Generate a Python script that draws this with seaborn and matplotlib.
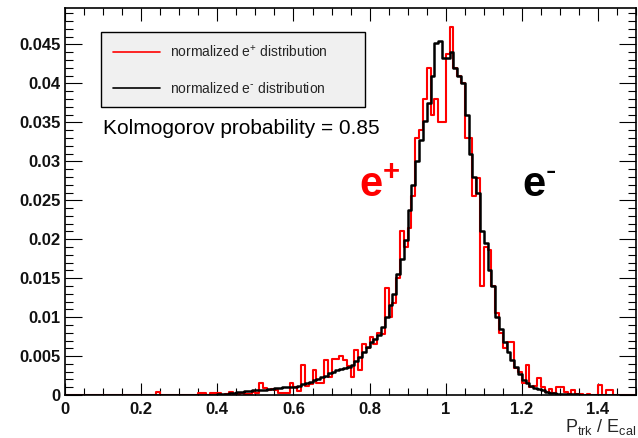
import numpy as np
import pandas as pd
import seaborn as sns
import matplotlib.pyplot as plt
from matplotlib.lines import Line2D
from matplotlib.ticker import MultipleLocator

# histogram bins: 150 bins of 0.01 over P_trk/E_cal in [0, 1.5]
bin_edges = np.linspace(0.0, 1.5, 151)
bin_centers = (bin_edges[:-1] + bin_edges[1:]) / 2

# normalized e- distribution (black), one value per bin
eminus_vals = [
    0, 0, 0, 0, 0, 0, 0, 0, 0, 0,
    0, 0, 0, 0, 0, 0, 0, 0, 0, 0,
    0, 0, 0, 0, 0, 0, 0, 0, 0, 0,
    0, 0, 0, 0, 0, 0, 0, 0, 0, 0,
    0.0001, 0.0002, 0.0002, 0.0003, 0.0003, 0.0004, 0.0004, 0.0005, 0.0005, 0.0006,
    0.0006, 0.0007, 0.0007, 0.0008, 0.0008, 0.0009, 0.0009, 0.0010, 0.0010, 0.0011,
    0.0011, 0.0012, 0.0014, 0.0016, 0.0017, 0.0019, 0.0021, 0.0023, 0.0025, 0.0028,
    0.0030, 0.0032, 0.0034, 0.0035, 0.0036, 0.0039, 0.0044, 0.0049, 0.0055, 0.0062,
    0.0068, 0.0072, 0.0077, 0.0088, 0.0100, 0.0115, 0.0130, 0.0156, 0.0175, 0.0199,
    0.0237, 0.0270, 0.0300, 0.0327, 0.0352, 0.0375, 0.0410, 0.0452, 0.0455, 0.0433,
    0.0433, 0.0440, 0.0420, 0.0410, 0.0400, 0.0360, 0.0310, 0.0280, 0.0260, 0.0210,
    0.0195, 0.0160, 0.0140, 0.0100, 0.0085, 0.0068, 0.0055, 0.0045, 0.0036, 0.0027,
    0.0019, 0.0015, 0.0012, 0.0009, 0.0008, 0.0006, 0.0004, 0.0003, 0.0003, 0.0002,
    0.0002, 0.0001, 0.0001, 0.0001, 0.0001, 0, 0, 0, 0, 0,
    0, 0, 0, 0, 0, 0, 0, 0, 0, 0,
]

# normalized e+ distribution (red), one value per bin
eplus_vals = [
    0, 0, 0, 0, 0, 0, 0, 0, 0, 0,
    0, 0, 0, 0, 0, 0, 0, 0, 0, 0,
    0, 0, 0, 0, 0.0004, 0, 0, 0, 0, 0,
    0, 0, 0, 0, 0, 0.0003, 0.0003, 0, 0.0003, 0.0003,
    0.0003, 0, 0.0002, 0.0004, 0, 0.0002, 0.0003, 0.0001, 0.0002, 0.0004,
    0.0003, 0.0016, 0.0009, 0.0007, 0.0008, 0.0006, 0.0003, 0.0003, 0.0003, 0.0016,
    0.0010, 0.0005, 0.0038, 0.0012, 0.0014, 0.0032, 0.0016, 0.0016, 0.0045, 0.0023,
    0.0046, 0.0046, 0.0050, 0.0045, 0.0037, 0.0023, 0.0058, 0.0032, 0.0065, 0.0060,
    0.0075, 0.0065, 0.0080, 0.0078, 0.0137, 0.0100, 0.0118, 0.0150, 0.0210, 0.0190,
    0.0215, 0.0255, 0.0330, 0.0340, 0.0380, 0.0420, 0.0360, 0.0380, 0.0350, 0.0350,
    0.0438, 0.0472, 0.0420, 0.0410, 0.0400, 0.0330, 0.0330, 0.0255, 0.0278, 0.0140,
    0.0190, 0.0186, 0.0140, 0.0105, 0.0080, 0.0060, 0.0068, 0.0068, 0.0035, 0.0030,
    0.0016, 0.0039, 0.0010, 0.0012, 0.0022, 0.0010, 0.0004, 0.0008, 0.0003, 0.0010,
    0.0010, 0.0004, 0.0002, 0.0006, 0.0002, 0.0001, 0, 0.0002, 0, 0,
    0.0013, 0, 0.0007, 0.0007, 0, 0, 0, 0, 0, 0,
]

x_ticks = [0, 0.2, 0.4, 0.6, 0.8, 1, 1.2, 1.4]
x_tick_labels = ["0", "0.2", "0.4", "0.6", "0.8", "1", "1.2", "1.4"]
y_ticks = [0, 0.005, 0.01, 0.015, 0.02, 0.025, 0.03, 0.035, 0.04, 0.045]
y_tick_labels = ["0", "0.005", "0.01", "0.015", "0.02", "0.025", "0.03", "0.035", "0.04", "0.045"]

df = pd.DataFrame({"ratio": bin_centers, "eplus": eplus_vals, "eminus": eminus_vals})

sns.set_style("white")
plt.rcParams['font.family'] = ['Liberation Sans', 'DejaVu Sans']
plt.rcParams['mathtext.default'] = 'regular'

fig = plt.figure(figsize=(6.38, 4.38), dpi=100)
ax = fig.add_axes([0.102, 0.098, 0.895, 0.884])

sns.histplot(data=df, x="ratio", weights="eplus", bins=list(bin_edges), element="step",
             fill=False, color="#ff0000", linewidth=1.5, ax=ax)
sns.histplot(data=df, x="ratio", weights="eminus", bins=list(bin_edges), element="step",
             fill=False, color="black", linewidth=1.8, ax=ax)

ax.set_xlim(0, 1.5)
ax.set_ylim(0, 0.0497)
ax.set_ylabel("")
ax.set_xticks(x_ticks)
ax.set_xticklabels(x_tick_labels)
ax.set_yticks(y_ticks)
ax.set_yticklabels(y_tick_labels)
ax.xaxis.set_minor_locator(MultipleLocator(0.05))
ax.yaxis.set_minor_locator(MultipleLocator(0.001))

for side in ax.spines.values():
    side.set_visible(True)
    side.set_color("black")
    side.set_linewidth(1.2)

ax.tick_params(axis="both", which="both", direction="in", top=True, right=True,
               bottom=True, left=True, color="black", width=0.8)
ax.tick_params(axis="x", which="major", length=9, pad=5)
ax.tick_params(axis="x", which="minor", length=5)
ax.tick_params(axis="y", which="major", length=12, pad=3)
ax.tick_params(axis="y", which="minor", length=6)
for lab in ax.get_xticklabels() + ax.get_yticklabels():
    lab.set_fontsize(12)
    lab.set_fontweight("bold")
    lab.set_color("#111111")

ax.set_xlabel(r"P$_{trk}$ / E$_{cal}$", loc="right", fontsize=13, labelpad=0)

handles = [Line2D([], [], color="#ff0000", linewidth=1.2),
           Line2D([], [], color="black", linewidth=1.2)]
labels = [r"normalized e$^{+}$ distribution", r"normalized e$^{\text{-}}$ distribution"]
leg = ax.legend(handles, labels, loc="upper left",
                bbox_to_anchor=(0.063, 0.744, 0.462, 0.194), mode="expand",
                borderaxespad=0, fontsize=10, frameon=True, fancybox=False,
                facecolor="#f0f0f0", edgecolor="black", framealpha=1,
                handlelength=3.4, handletextpad=0.7, labelspacing=1.5,
                borderpad=0.85)
leg.get_frame().set_linewidth(1.0)

ax.text(0.099, 0.0342, "Kolmogorov probability = 0.85", fontsize=15,
        va="center", ha="left", color="black")
ax.text(0.827, 0.0269, r"e$^{+}$", fontsize=30, fontweight="bold",
        color="#ff0000", ha="center", va="center")
ax.text(1.247, 0.0269, r"e$^{\text{-}}$", fontsize=30, fontweight="bold",
        color="black", ha="center", va="center")

plt.savefig("out.png", dpi=100)
